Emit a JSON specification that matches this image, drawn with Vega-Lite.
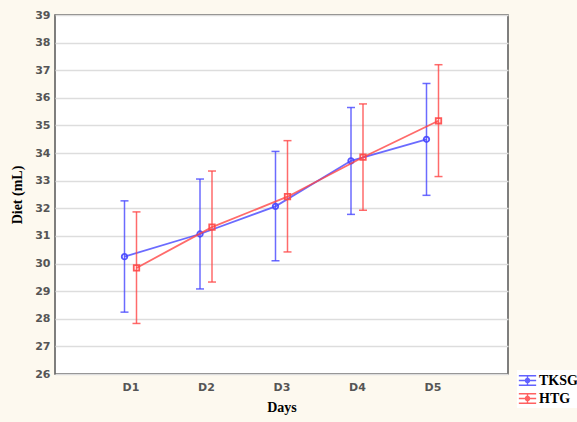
{
"$schema": "https://vega.github.io/schema/vega-lite/v6.json",
"width": 453, "height": 359,
"autosize": {"type": "none"},
"padding": {"left": 55, "top": 15, "right": 69, "bottom": 48},
"background": "#fdf9ef",
"config": {
  "view": {"fill": "white", "stroke": "#555555", "strokeWidth": 1.5},
  "axis": {"gridColor": "#dddddd", "gridWidth": 1.5, "domain": false, "ticks": false, "labelFont": "DejaVu Sans", "labelFontSize": 11, "labelFontWeight": "bold", "labelColor": "#555555", "titleFont": "Liberation Serif", "titleFontSize": 14, "titleFontWeight": "bold", "titleColor": "black"},
  "axisY": {"tickCount": 13, "labelPadding": 5, "titlePadding": 10},
  "axisX": {"labelPadding": 7, "titlePadding": 8, "labelAngle": 0}
},
"data": {"values": [
  {"day": "D1", "group": "TKSG", "mean": 30.25, "lo": 28.24, "hi": 32.27},
  {"day": "D2", "group": "TKSG", "mean": 31.07, "lo": 29.08, "hi": 33.06},
  {"day": "D3", "group": "TKSG", "mean": 32.07, "lo": 30.10, "hi": 34.06},
  {"day": "D4", "group": "TKSG", "mean": 33.72, "lo": 31.78, "hi": 35.65},
  {"day": "D5", "group": "TKSG", "mean": 34.50, "lo": 32.47, "hi": 36.52},
  {"day": "D1", "group": "HTG", "mean": 29.84, "lo": 27.83, "hi": 31.87},
  {"day": "D2", "group": "HTG", "mean": 31.32, "lo": 29.33, "hi": 33.35},
  {"day": "D3", "group": "HTG", "mean": 32.42, "lo": 30.42, "hi": 34.45},
  {"day": "D4", "group": "HTG", "mean": 33.85, "lo": 31.93, "hi": 35.78},
  {"day": "D5", "group": "HTG", "mean": 35.17, "lo": 33.15, "hi": 37.20}
]},
"encoding": {
  "x": {"field": "day", "type": "ordinal", "scale": {"type": "point", "padding": 1}, "title": "Days"},
  "color": {"field": "group", "type": "nominal", "scale": {"domain": ["TKSG", "HTG"], "range": ["#4646ff", "#ff4646"]},
    "legend": {"title": null, "orient": "none", "legendX": 462, "legendY": 355, "fillColor": "white", "padding": 1, "rowPadding": 0,
      "symbolType": "M-1,-0.55H1M-1,0H1M-1,0.55H1M0,-0.55V0.55M0.22,0A0.22,0.22,0,1,1,-0.22,0A0.22,0.22,0,1,1,0.22,0",
      "symbolSize": 300, "symbolStrokeWidth": 1.5, "symbolFillColor": "transparent", "symbolOpacity": 0.85,
      "labelFont": "Liberation Serif", "labelFontSize": 14, "labelFontWeight": "bold", "labelColor": "black", "labelOffset": 2}}
},
"layer": [
  {"transform": [{"filter": "datum.group === 'TKSG'"}], "mark": {"type": "rule", "xOffset": -6, "strokeWidth": 1.5, "opacity": 0.8},
   "encoding": {"y": {"field": "lo", "type": "quantitative", "scale": {"domain": [26, 39]}, "title": "Diet (mL)"}, "y2": {"field": "hi"}}},
  {"transform": [{"filter": "datum.group === 'TKSG'"}], "mark": {"type": "tick", "xOffset": -6, "thickness": 1.5, "size": 8, "opacity": 0.8},
   "encoding": {"y": {"field": "lo", "type": "quantitative", "scale": {"domain": [26, 39]}, "title": "Diet (mL)"}}},
  {"transform": [{"filter": "datum.group === 'TKSG'"}], "mark": {"type": "tick", "xOffset": -6, "thickness": 1.5, "size": 8, "opacity": 0.8},
   "encoding": {"y": {"field": "hi", "type": "quantitative", "scale": {"domain": [26, 39]}, "title": "Diet (mL)"}}},
  {"transform": [{"filter": "datum.group === 'TKSG'"}], "mark": {"type": "line", "xOffset": -6, "strokeWidth": 1.8, "opacity": 0.8},
   "encoding": {"y": {"field": "mean", "type": "quantitative", "scale": {"domain": [26, 39]}, "title": "Diet (mL)"}}},
  {"transform": [{"filter": "datum.group === 'TKSG'"}], "mark": {"type": "point", "shape": "circle", "filled": false, "xOffset": -6, "size": 30, "strokeWidth": 1.8, "opacity": 0.9},
   "encoding": {"y": {"field": "mean", "type": "quantitative", "scale": {"domain": [26, 39]}, "title": "Diet (mL)"}}},
  {"transform": [{"filter": "datum.group === 'HTG'"}], "mark": {"type": "rule", "xOffset": 6, "strokeWidth": 1.5, "opacity": 0.8},
   "encoding": {"y": {"field": "lo", "type": "quantitative", "scale": {"domain": [26, 39]}, "title": "Diet (mL)"}, "y2": {"field": "hi"}}},
  {"transform": [{"filter": "datum.group === 'HTG'"}], "mark": {"type": "tick", "xOffset": 6, "thickness": 1.5, "size": 8, "opacity": 0.8},
   "encoding": {"y": {"field": "lo", "type": "quantitative", "scale": {"domain": [26, 39]}, "title": "Diet (mL)"}}},
  {"transform": [{"filter": "datum.group === 'HTG'"}], "mark": {"type": "tick", "xOffset": 6, "thickness": 1.5, "size": 8, "opacity": 0.8},
   "encoding": {"y": {"field": "hi", "type": "quantitative", "scale": {"domain": [26, 39]}, "title": "Diet (mL)"}}},
  {"transform": [{"filter": "datum.group === 'HTG'"}], "mark": {"type": "line", "xOffset": 6, "strokeWidth": 1.8, "opacity": 0.8},
   "encoding": {"y": {"field": "mean", "type": "quantitative", "scale": {"domain": [26, 39]}, "title": "Diet (mL)"}}},
  {"transform": [{"filter": "datum.group === 'HTG'"}], "mark": {"type": "point", "shape": "square", "filled": false, "xOffset": 6, "size": 30, "strokeWidth": 1.8, "opacity": 0.9},
   "encoding": {"y": {"field": "mean", "type": "quantitative", "scale": {"domain": [26, 39]}, "title": "Diet (mL)"}}}
]
}
